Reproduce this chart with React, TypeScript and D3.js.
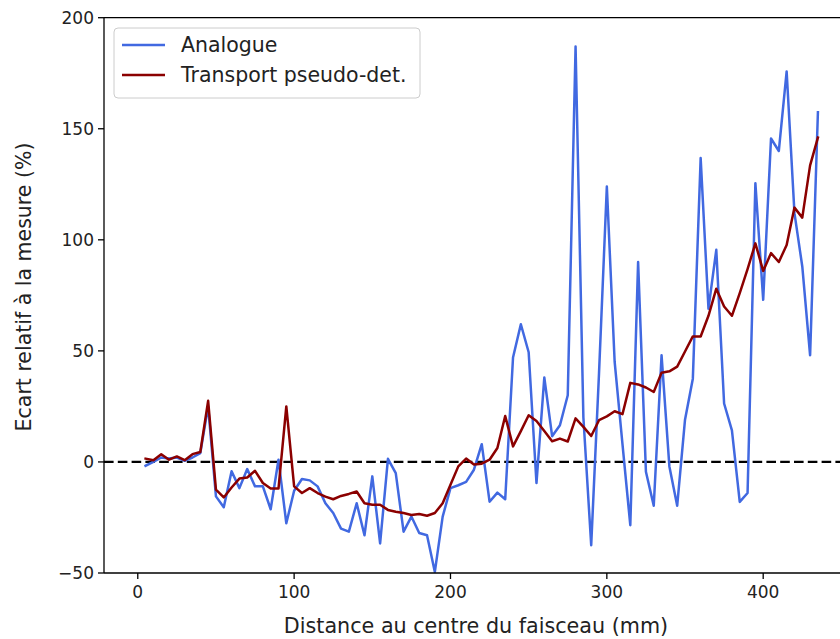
import React, { useEffect, useRef } from "react";
import * as d3 from "d3";

const distances: number[] = [
  5, 10, 15, 20, 25, 30, 35, 40, 45, 50, 55, 60, 65, 70, 75, 80, 85, 90, 95, 100,
  105, 110, 115, 120, 125, 130, 135, 140, 145, 150, 155, 160, 165, 170, 175, 180, 185, 190, 195, 200,
  205, 210, 215, 220, 225, 230, 235, 240, 245, 250, 255, 260, 265, 270, 275, 280, 285, 290, 295, 300,
  305, 310, 315, 320, 325, 330, 335, 340, 345, 350, 355, 360, 365, 370, 375, 380, 385, 390, 395, 400,
  405, 410, 415, 420, 425, 430, 435,
];

const analogue: number[] = [
  -1.7, 0, 2, 1.5, 2, 0.5, 2, 4, 25, -15.5, -20.4, -4.2, -11.8, -3.2, -11, -11, -21.3, 1, -27.6, -13,
  -7.7, -8.3, -11, -18.6, -23, -30, -31.4, -18.6, -33, -6.5, -36.7, 1.4, -5, -31.4, -24.6, -32, -33, -49.5, -24.6, -11.8,
  -10.5, -9, -3.5, 8, -17.9, -13.8, -16.8, 47, 62, 49.4, -9.5, 38, 11.6, 16.5, 30, 187, 20, -37.5, 40, 124,
  45, 8, -28.5, 90, -4.4, -19.7, 48, -2, -19.7, 19, 37.5, 136.8, 69, 95.5, 26.3, 14.2, -18, -14, 125.5, 73,
  145.6, 140, 175.8, 112, 88, 48, 157.4,
];

const transport: number[] = [
  1.5, 0.8, 3.5, 1, 2.5, 0.8, 3.5, 4.5, 27.5, -12.5, -16, -11.5, -7.5, -7, -4, -9.5, -12, -12, 25, -11,
  -14, -11.8, -14, -15.6, -16.8, -15.3, -14.4, -13.3, -18.6, -19.3, -19.3, -21.6, -22.4, -23, -23.9, -23.4, -24.2, -23, -18.6, -10.3,
  -2, 1.5, -1.2, -0.8, 1, 6.3, 20.7, 7, 13.9, 21, 18.4, 13.9, 9.3, 10.5, 9.2, 19.6, 15.8, 11.7, 18.8, 20.5,
  22.8, 21.5, 35.6, 34.9, 33.5, 31.5, 40.2, 40.8, 42.9, 49.7, 56.5, 56.5, 65.8, 78, 70, 65.8, 76, 86.8, 98.4, 86,
  94, 90, 97.7, 114.5, 110, 133.5, 146,
];

const xTicks: number[] = [0, 100, 200, 300, 400];
const yTicks: number[] = [-50, 0, 50, 100, 150, 200];
const seriesNames: string[] = ["Analogue", "Transport pseudo-det."];
const seriesColors: string[] = ["#4169E1", "#8B0000"];
const xLabel = "Distance au centre du faisceau (mm)";
const yLabel = "Ecart relatif à la mesure (%)";

const W = 840;
const H = 639;
const FONT = "'DejaVu Sans', sans-serif";

export default function App() {
  const ref = useRef<SVGSVGElement | null>(null);

  useEffect(() => {
    const svg = d3.select(ref.current);
    svg.selectAll("*").remove();

    const left = 104;
    const right = 852;
    const top = 17.7;
    const bottom = 573;

    const x = d3.scaleLinear().domain([-21.6, 456]).range([left, 137.8 + 1.5635 * 456]);
    const y = d3.scaleLinear().domain([-50, 200]).range([bottom, top]);

    svg.append("rect").attr("width", W).attr("height", H).attr("fill", "white");

    const clipId = "plotclip";
    svg
      .append("clipPath")
      .attr("id", clipId)
      .append("rect")
      .attr("x", left)
      .attr("y", top)
      .attr("width", right - left)
      .attr("height", bottom - top);

    const plot = svg.append("g").attr("clip-path", `url(#${clipId})`);

    plot
      .append("line")
      .attr("x1", left)
      .attr("x2", W + 20)
      .attr("y1", y(0))
      .attr("y2", y(0))
      .attr("stroke", "black")
      .attr("stroke-width", 2.2)
      .attr("stroke-dasharray", "9.6,4.2");

    const series = [analogue, transport];
    series.forEach((vals, i) => {
      const line = d3
        .line<number>()
        .x((_, j) => x(distances[j]))
        .y((d) => y(d));
      plot
        .append("path")
        .datum(vals)
        .attr("d", line)
        .attr("fill", "none")
        .attr("stroke", seriesColors[i])
        .attr("stroke-width", 2.5)
        .attr("stroke-linejoin", "round")
        .attr("stroke-linecap", "square");
    });

    const spine = svg.append("g").attr("stroke", "black").attr("stroke-width", 1.3);
    spine.append("line").attr("x1", left).attr("x2", left).attr("y1", top).attr("y2", bottom);
    spine.append("line").attr("x1", left).attr("x2", W + 10).attr("y1", top).attr("y2", top);
    spine.append("line").attr("x1", left).attr("x2", W + 10).attr("y1", bottom).attr("y2", bottom);

    const gx = svg.append("g");
    xTicks.forEach((t) => {
      gx.append("line")
        .attr("x1", x(t))
        .attr("x2", x(t))
        .attr("y1", bottom)
        .attr("y2", bottom + 6)
        .attr("stroke", "black")
        .attr("stroke-width", 1.3);
      gx.append("text")
        .attr("x", x(t))
        .attr("y", bottom + 25)
        .attr("text-anchor", "middle")
        .attr("font-family", FONT)
        .attr("font-size", 17)
        .attr("fill", "#222")
        .text(String(t));
    });

    const gy = svg.append("g");
    yTicks.forEach((t) => {
      gy.append("line")
        .attr("x1", left - 6)
        .attr("x2", left)
        .attr("y1", y(t))
        .attr("y2", y(t))
        .attr("stroke", "black")
        .attr("stroke-width", 1.3);
      gy.append("text")
        .attr("x", left - 10)
        .attr("y", y(t))
        .attr("dy", "0.36em")
        .attr("text-anchor", "end")
        .attr("font-family", FONT)
        .attr("font-size", 17)
        .attr("fill", "#222")
        .text(t < 0 ? `\u2212${Math.abs(t)}` : String(t));
    });

    svg
      .append("text")
      .attr("x", 476)
      .attr("y", 633)
      .attr("text-anchor", "middle")
      .attr("font-family", FONT)
      .attr("font-size", 20.7)
      .attr("fill", "#222")
      .text(xLabel);

    svg
      .append("text")
      .attr("transform", `translate(31, 287) rotate(-90)`)
      .attr("text-anchor", "middle")
      .attr("font-family", FONT)
      .attr("font-size", 20.5)
      .attr("fill", "#222")
      .text(yLabel);

    const lg = svg.append("g");
    lg.append("rect")
      .attr("x", 114)
      .attr("y", 28)
      .attr("width", 306)
      .attr("height", 70)
      .attr("rx", 4)
      .attr("fill", "white")
      .attr("fill-opacity", 0.8)
      .attr("stroke", "#cccccc");
    seriesNames.forEach((name, i) => {
      const ly = 45 + i * 30;
      lg.append("line")
        .attr("x1", 122)
        .attr("x2", 165)
        .attr("y1", ly)
        .attr("y2", ly)
        .attr("stroke", seriesColors[i])
        .attr("stroke-width", 2.5);
      lg.append("text")
        .attr("x", 181)
        .attr("y", ly)
        .attr("dy", "0.36em")
        .attr("font-family", FONT)
        .attr("font-size", 20.5)
        .attr("fill", "#222")
        .text(name);
    });
  }, []);

  return (
    <svg
      ref={ref}
      width={W}
      height={H}
      style={{ position: "absolute", left: 0, top: 0, display: "block" }}
    />
  );
}
